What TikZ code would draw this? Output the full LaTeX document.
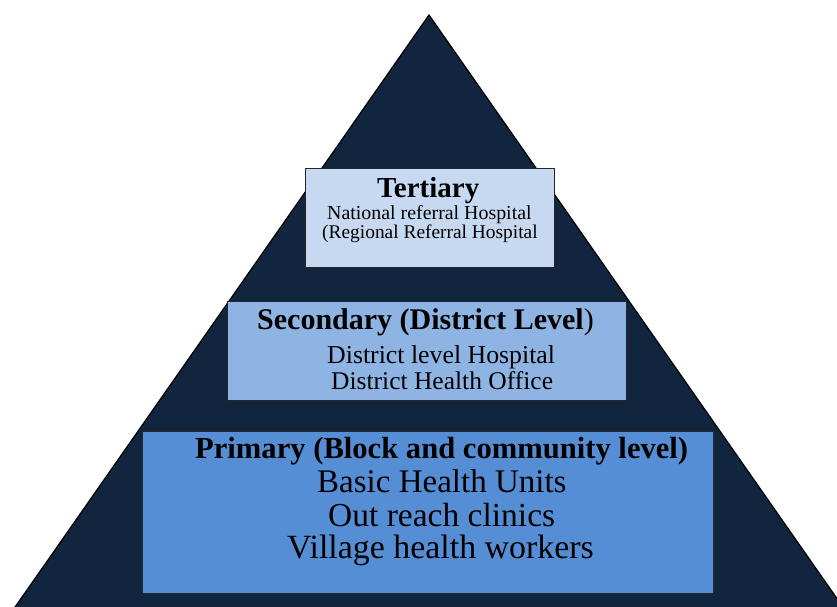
\documentclass[tikz,border=0pt]{standalone}
\usepackage{fontspec}
\setmainfont{Liberation Serif}
\definecolor{navy}{RGB}{17,37,63}
\definecolor{tfill}{RGB}{198,217,241}
\definecolor{sfill}{RGB}{142,180,227}
\definecolor{pfill}{RGB}{85,142,213}
\tikzset{
  tier/.style={draw=black!85, line width=1.2pt, inner sep=0pt, anchor=north west},
  txt/.style={inner sep=0pt, anchor=base west, text=black},
}
\newcommand{\fs}[1]{\fontsize{#1}{#1}\selectfont}
\begin{document}
\begin{tikzpicture}[x=1pt,y=-1pt]
\useasboundingbox (0,0) rectangle (837,606);
\begin{scope}
\clip (0,0) rectangle (837,606);
\draw[fill=navy, draw=black, line width=1.2pt] (429,15) -- (845,610) -- (13,610) -- cycle;
\end{scope}
% boxes
\node[tier, fill=tfill, minimum width=249pt, minimum height=99pt] (tert) at (305,168) {};
\node[tier, fill=sfill, minimum width=399pt, minimum height=99pt] (sec) at (227,301) {};
\node[tier, fill=pfill, minimum width=571pt, minimum height=162pt] (prim) at (142,431) {};
% tertiary text
\node[txt, font=\fs{29}\bfseries] (t1) at (377,197) {Tertiary};
\node[txt, font=\fs{19.9}] (t2) at (327,219) {National referral Hospital};
\node[txt, font=\fs{19.4}] (t3) at (322,238) {(Regional Referral Hospital};
% secondary text
\node[txt, font=\fs{30}] (s1) at (257,329) {\textbf{Secondary (District Level})};
\node[txt, font=\fs{25.8}] (s2) at (327,363) {District level Hospital};
\node[txt, font=\fs{25.5}] (s3) at (331,389) {District Health Office};
% primary text
\node[txt, font=\fs{30.6}\bfseries] (p1) at (195,458) {Primary (Block and community level)};
\node[txt, font=\fs{33}] (p2) at (317,492) {Basic Health Units};
\node[txt, font=\fs{33.5}] (p3) at (328,526) {Out reach clinics};
\node[txt, font=\fs{33.9}] (p4) at (287,558) {Village health workers};
\end{tikzpicture}
\end{document}
